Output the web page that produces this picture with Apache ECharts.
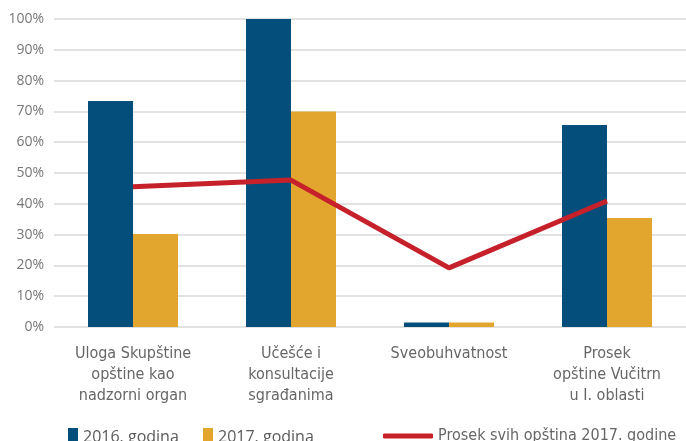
<!DOCTYPE html>
<html>
<head>
<meta charset="utf-8">
<script src="https://cdn.jsdelivr.net/npm/echarts@6/dist/echarts.min.js"></script>
<style>
html,body{margin:0;padding:0;background:#fff;}
#chart{width:686px;height:441px;}
</style>
</head>
<body>
<div id="chart"></div>
<script>
// kategorije i vrijednosti
var categories = ['Uloga Skupštine\nopštine kao\nnadzorni organ', 'Učešće i\nkonsultacije\nsgrađanima', 'Sveobuhvatnost', 'Prosek\nopštine Vučitrn\nu I. oblasti'];
var data2016 = [73.4, 100, 1.5, 65.6];
var data2017 = [30.2, 70, 1.5, 35.4];
var prosek2017 = [45.5, 47.7, 19.2, 40.9];
var yTicks = [0, 10, 20, 30, 40, 50, 60, 70, 80, 90, 100];

var condensed = '"Liberation Sans Narrow", "DejaVu Sans Condensed", sans-serif';
var legendText = {color:'#5a5a5a', fontSize:16, fontFamily:'"Open Sans", sans-serif'};

var myChart = echarts.init(document.getElementById('chart'));
var option = {
	animation:false,
	grid:{
		left:54,
		right:0,
		top:19,
		bottom:114
	},
	legend:[
		{
			data:['2016. godina'],
			left:63,
			top:423,
			itemWidth:10,
			itemHeight:18,
			itemGap:6,
			icon:'rect',
			textStyle:legendText
		},
		{
			data:['2017. godina'],
			left:198,
			top:423,
			itemWidth:10,
			itemHeight:18,
			icon:'rect',
			textStyle:legendText
		},
		{
			data:[{name:'Prosek svih opština 2017. godine', icon:'roundRect'}],
			left:378,
			top:423,
			itemWidth:50,
			itemHeight:5,
			textStyle:{color:'#666', fontSize:16, fontFamily:condensed}
		}
	],
	xAxis:{
		type:'category',
		data:categories,
		axisLine:{show:false},
		axisTick:{show:false},
		axisLabel:{
			color:'#666',
			fontSize:16,
			lineHeight:21,
			fontFamily:condensed,
			margin:16,
			interval:0
		}
	},
	yAxis:{
		type:'value',
		min:yTicks[0],
		max:yTicks[yTicks.length-1],
		interval:10,
		axisLine:{show:false},
		axisTick:{show:false},
		splitLine:{lineStyle:{color:'#d9d9d9', width:1.5}},
		axisLabel:{
			color:'#777',
			fontSize:14,
			fontFamily:'"Open Sans", sans-serif',
			margin:10,
			formatter:'{value}%'
		}
	},
	series:[
		{
			name:'2016. godina',
			type:'bar',
			data:data2016,
			barWidth:45,
			barGap:'0%',
			itemStyle:{color:'#034e7b'}
		},
		{
			name:'2017. godina',
			type:'bar',
			data:data2017,
			barWidth:45,
			itemStyle:{color:'#e2a52e'}
		},
		{
			name:'Prosek svih opština 2017. godine',
			type:'line',
			data:prosek2017,
			symbol:'none',
			lineStyle:{color:'#c6212a', width:5},
			itemStyle:{color:'#c6212a'}
		}
	]
};
myChart.setOption(option);
</script>
</body>
</html>
